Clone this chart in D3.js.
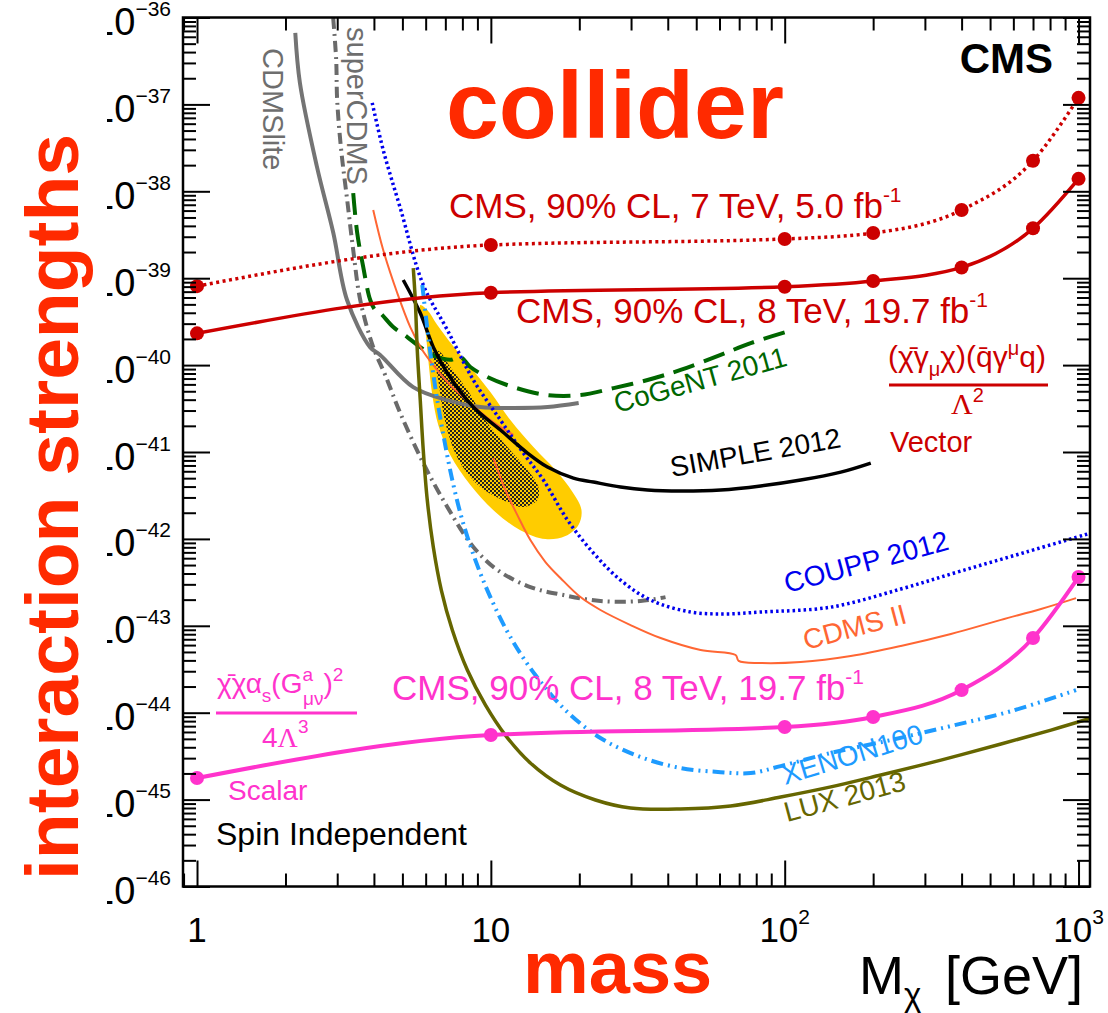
<!DOCTYPE html>
<html>
<head>
<meta charset="utf-8">
<script src="https://cdn.jsdelivr.net/npm/d3@7"></script>
<style>
  body { margin: 0; background: #fff; }
  svg { display: block; }
  text { font-family: "Liberation Sans", Arial, Helvetica, sans-serif; }
</style>
</head>
<body>
<svg id="chart"></svg>
<script>
// CMS mono-jet limits (points at fixed masses)
const massPoints = [1, 10, 100, 200, 400, 700, 1000];
const vector7TeV = [8.1e-40, 2.41e-39, 2.83e-39, 3.31e-39, 6.09e-39, 2.25e-38, 1.19e-37];
const vector8TeV = [2.32e-40, 6.81e-40, 7.98e-40, 9.29e-40, 1.33e-39, 3.75e-39, 1.39e-38];
const scalar8TeV = [1.77e-45, 5.54e-45, 6.84e-45, 8.93e-45, 1.82e-44, 7.24e-44, 3.64e-43];

// direct detection limits, [mass GeV, cross section cm^2]
const cdmsLite = [[2.16, 6.64e-37], [2.24, 1.76e-37], [2.56, 1.91e-38], [2.91, 3.31e-39], [3.24, 5.61e-40],
  [3.88, 1.61e-40], [4.2, 1.31e-40], [5.44, 5.58e-41], [7.11, 3.95e-41], [9.21, 3.29e-41], [11.9, 3.21e-41],
  [15.6, 3.29e-41], [19.9, 3.66e-41]];
const superCdms = [[2.907, 9.86e-37], [2.976, 3.24e-37], [2.999, 1.12e-37], [3.095, 2.99e-38], [3.244, 7.94e-39],
  [3.401, 2.11e-39], [3.593, 5.61e-40], [3.978, 1.61e-40], [4.37, 7.69e-41], [4.916, 2.81e-41], [5.888, 7.46e-42],
  [7.109, 2.33e-42], [8.717, 8.07e-43], [10.53, 4.39e-43], [13.63, 2.79e-43], [17.66, 2.26e-43], [23.6, 1.93e-43],
  [32.3, 1.93e-43], [39.3, 2.14e-43]];
const coupp = [[3.947, 1.04e-37], [4.302, 2.99e-38], [4.916, 6.43e-39], [5.888, 8.36e-40], [7.109, 2.54e-40],
  [8.717, 6.74e-41], [10.78, 2.33e-41], [12.9, 9.73e-42], [15.1, 4.75e-42], [18.23, 1.65e-42], [22.35, 6.87e-43],
  [27.62, 3.36e-43], [34.95, 1.98e-43], [47.83, 1.44e-43], [62.95, 1.37e-43], [82.83, 1.44e-43], [143.5, 1.64e-43],
  [248.5, 2.65e-43], [397.9, 4.27e-43], [662.2, 7.05e-43], [1103, 1.17e-42]];
const cogent = [[3.401, 9.55e-39], [3.509, 3.31e-39], [3.678, 1.35e-39], [3.886, 5.61e-40], [4.042, 4.3e-40],
  [4.202, 3.97e-40], [4.653, 2.74e-40], [5.194, 2.1e-40], [5.751, 1.61e-40], [6.573, 1.24e-40], [7.278, 1.15e-40],
  [7.872, 1.24e-40], [8.516, 9.5e-41], [9.73, 7.29e-41], [11.93, 5.58e-41], [15.58, 4.52e-41], [20.18, 4.52e-41],
  [26.15, 5.44e-41], [34.14, 6.74e-41], [44.23, 8.79e-41], [60.53, 1.31e-40], [76.61, 1.79e-40], [100.8, 2.4e-40]];
const cdms2Upper = [[3.978, 6.1e-39], [4.302, 2.11e-39], [4.802, 6.76e-40], [5.318, 2.74e-40], [5.844, 1.49e-40],
  [6.37, 1.0e-40], [7.278, 5.89e-41], [8.058, 4.29e-41], [9.961, 2.33e-41], [11.93, 1.57e-41]];
const cdms2 = [[10.2, 8.53e-42], [11.2, 3.66e-42], [12.31, 1.88e-42], [13.63, 9.7e-43], [15.34, 5.42e-43],
  [17.25, 3.55e-43], [20.18, 2.14e-43], [23.6, 1.52e-43], [29.88, 1.02e-43], [37.81, 7.23e-44], [51.74, 5.26e-44],
  [68.08, 4.61e-44], [69.71, 3.94e-44], [82.83, 3.73e-44], [113.4, 3.83e-44], [167.8, 4.49e-44], [248.5, 5.86e-44],
  [367.8, 8.05e-44], [544.5, 1.17e-43], [745.1, 1.56e-43], [980.6, 2.08e-43]];
const simple = [[5.033, 9.53e-40], [5.751, 3.97e-40], [6.37, 1.61e-40], [7.109, 8.11e-41], [8.717, 3.29e-41],
  [10.78, 1.79e-41], [13.32, 9.73e-42], [15.58, 6.71e-42], [19.1, 5.01e-42], [22.35, 4.51e-42], [27.62, 3.95e-42],
  [34.14, 3.65e-42], [44.23, 3.55e-42], [60.53, 3.65e-42], [82.83, 4.06e-42], [113.4, 4.75e-42], [155.2, 5.87e-42],
  [196.3, 7.46e-42]];
const lux = [[5.445, 1.31e-39], [5.531, 5.61e-40], [5.618, 1.49e-40], [5.751, 3.95e-41], [5.888, 1.05e-41],
  [6.076, 2.8e-42], [6.37, 8.07e-43], [6.782, 2.58e-43], [7.393, 8.95e-44], [8.317, 3.1e-44], [9.578, 1.23e-44],
  [11.2, 5.53e-45], [13.63, 2.64e-45], [17.25, 1.47e-45], [22.7, 9.89e-46], [29.88, 8.0e-46], [44.23, 7.8e-46],
  [65.46, 8.43e-46], [96.9, 1.07e-45], [143.5, 1.4e-45], [212.4, 1.92e-45], [340.1, 2.85e-45], [544.5, 4.36e-45],
  [806, 6.31e-45], [1103, 8.67e-45]];
const xenon100 = [[5.844, 8.36e-40], [6.029, 3.3e-40], [6.27, 1.15e-40], [6.573, 3.95e-41], [6.944, 1.37e-41],
  [7.393, 4.75e-42], [7.993, 1.65e-42], [8.857, 5.7e-43], [9.961, 2.14e-43], [11.65, 7.43e-44], [14.18, 2.71e-44],
  [17.94, 1.07e-44], [23.6, 5.12e-45], [32.31, 3.09e-45], [44.23, 2.31e-45], [60.53, 2.07e-45], [76.61, 2.02e-45],
  [96.9, 2.43e-45], [143.5, 3.44e-45], [229.7, 4.84e-45], [367.8, 7.03e-45], [588.8, 1.04e-44], [980.6, 1.82e-44]];

// signal regions (closed contours)
const cdmsSiOuter = [[5.751, 4.91e-40], [5.981, 2.54e-40], [6.124, 1.15e-40], [6.32, 4.53e-41], [6.623, 2.04e-41],
  [7.278, 9.23e-42], [8.516, 4.16e-42], [10.36, 2.04e-42], [12.6, 1.26e-42], [15.34, 9.95e-43], [17.94, 1.08e-42],
  [19.87, 1.45e-42], [20.34, 2.15e-42], [18.96, 3.46e-42], [16.59, 6.19e-42], [13.96, 1.14e-41], [11.65, 2.33e-41],
  [9.961, 4.9e-41], [8.516, 9.5e-41], [7.393, 1.7e-40], [6.573, 2.89e-40], [6.076, 4.3e-40]];
const cdmsSiInner = [[6.37, 1.49e-40], [6.623, 6.74e-41], [6.891, 2.81e-41], [7.278, 1.37e-41], [7.872, 7.46e-42],
  [9.209, 3.95e-42], [11.38, 2.65e-42], [12.9, 2.33e-42], [14.4, 2.8e-42], [14.51, 3.95e-42], [13.32, 6.19e-42],
  [11.38, 1.14e-41], [9.73, 2.15e-41], [8.317, 5.16e-41], [7.278, 9.5e-41], [6.73, 1.41e-40]];

const xLabelValues = [1, 10, 100, 1000];

const W = 1108, H = 1013;
const pLeft = 183, pRight = 1090, pTop = 17.5, pBottom = 886.5;
const red = '#cc0000', magenta = '#ff33cc', big = '#ff2a00';

const x = d3.scaleLog().domain([0.896, 1094]).range([pLeft, pRight]);
const y = d3.scaleLog().domain([1e-46, 1e-36]).range([pBottom, pTop]);

const svg = d3.select('#chart').attr('width', W).attr('height', H);
const defs = svg.append('defs');
defs.append('clipPath').attr('id', 'plotClip')
  .append('rect').attr('x', pLeft).attr('y', pTop).attr('width', pRight - pLeft).attr('height', pBottom - pTop);
defs.append('clipPath').attr('id', 'labClip')
  .append('rect').attr('x', 107).attr('y', 0).attr('width', 100).attr('height', H);
const pat = defs.append('pattern').attr('id', 'checker').attr('patternUnits', 'userSpaceOnUse')
  .attr('width', 4).attr('height', 4);
pat.append('rect').attr('width', 4).attr('height', 4).attr('fill', '#ffcc00');
pat.append('rect').attr('width', 2).attr('height', 2).attr('fill', '#222');
pat.append('rect').attr('x', 2).attr('y', 2).attr('width', 2).attr('height', 2).attr('fill', '#222');

const plot = svg.append('g').attr('clip-path', 'url(#plotClip)');

const smooth = d3.line().x(d => x(d[0])).y(d => y(d[1])).curve(d3.curveCatmullRom.alpha(0.5));
const closed = d3.line().x(d => x(d[0])).y(d => y(d[1])).curve(d3.curveCatmullRomClosed.alpha(0.5));

plot.append('path').attr('d', closed(cdmsSiOuter)).attr('fill', '#ffcc00');
plot.append('path').attr('d', closed(cdmsSiInner)).attr('fill', 'url(#checker)');

function curve(data, color, width, dash) {
  plot.append('path').attr('d', smooth(data)).attr('fill', 'none')
    .attr('stroke', color).attr('stroke-width', width)
    .attr('stroke-dasharray', dash || null);
}

curve(cdmsLite, '#747474', 4);
curve(superCdms, '#6a6a6a', 4, '11,5,2,5');
curve(cogent, '#006600', 4, '22,10');
curve(cdms2Upper, '#ff6633', 2);
curve(cdms2, '#ff6633', 2);
curve(coupp, '#0000ee', 3.5, '2.5,3');
curve(simple, '#000', 3.5);
curve(xenon100, '#1e9bff', 4, '12,5,2,5,2,5');
curve(lux, '#666600', 3.5);

// CMS lines
const cmsLine = d3.line().x((d, i) => x(massPoints[i])).y(d => y(d)).curve(d3.curveMonotoneX);
function cms(values, color, width, dash) {
  plot.append('path').attr('d', cmsLine(values)).attr('fill', 'none')
    .attr('stroke', color).attr('stroke-width', width).attr('stroke-dasharray', dash || null);
  svg.append('g').selectAll('circle').data(values).join('circle')
    .attr('cx', (d, i) => x(massPoints[i])).attr('cy', d => y(d)).attr('r', 7).attr('fill', color);
}
cms(vector7TeV, red, 3.5, '3,3.5');
cms(vector8TeV, red, 3.5);
cms(scalar8TeV, magenta, 4);

// frame and ticks
const isMajor = v => Math.abs(Math.log10(v) - Math.round(Math.log10(v))) < 1e-6;
const yTicks = y.ticks(20), xTicks = x.ticks(20);
const yMajor = yTicks.filter(isMajor), yMinor = yTicks.filter(v => !isMajor(v));
const xMajor = xTicks.filter(isMajor), xMinor = xTicks.filter(v => !isMajor(v));

function ticks(axis, tx, ty) {
  svg.append('g').attr('transform', `translate(${tx},${ty})`)
    .call(axis.tickSizeOuter(0).tickFormat(''))
    .call(g => g.select('.domain').remove())
    .call(g => g.selectAll('line').attr('stroke-width', 2));
}
ticks(d3.axisRight(y).tickValues(yMajor).tickSize(27), pLeft, 0);
ticks(d3.axisRight(y).tickValues(yMinor).tickSize(13), pLeft, 0);
ticks(d3.axisLeft(y).tickValues(yMajor).tickSize(27), pRight, 0);
ticks(d3.axisLeft(y).tickValues(yMinor).tickSize(13), pRight, 0);
ticks(d3.axisTop(x).tickValues(xMajor).tickSize(26), 0, pBottom);
ticks(d3.axisTop(x).tickValues(xMinor).tickSize(13), 0, pBottom);
ticks(d3.axisBottom(x).tickValues(xMajor).tickSize(26), 0, pTop);
ticks(d3.axisBottom(x).tickValues(xMinor).tickSize(13), 0, pTop);

svg.append('rect').attr('x', pLeft).attr('y', pTop).attr('width', pRight - pLeft).attr('height', pBottom - pTop)
  .attr('fill', 'none').attr('stroke', '#000').attr('stroke-width', 2.5);

// tick labels
const yLab = svg.append('g').attr('clip-path', 'url(#labClip)')
  .selectAll('text').data(yMajor).join('text')
  .attr('x', 171).attr('y', d => y(d) + 17.5).attr('text-anchor', 'end').attr('font-size', 38);
yLab.append('tspan').text('10');
yLab.append('tspan').attr('font-size', 21).attr('dy', -19)
  .text(d => '\u2212' + Math.abs(Math.round(Math.log10(d))));

const xLab = svg.append('g').selectAll('text').data(xLabelValues).join('text')
  .attr('x', d => x(d)).attr('y', 942).attr('text-anchor', 'middle').attr('font-size', 35);
xLab.append('tspan').text(d => (d < 100 ? String(d) : '10'));
xLab.filter(d => d >= 100).append('tspan').attr('font-size', 21).attr('dy', -18)
  .text(d => Math.round(Math.log10(d)));

// text helpers
function label(txt, px, py, size, color, angle, opts = {}) {
  const t = svg.append('text')
    .attr('transform', `translate(${px},${py}) rotate(${angle || 0})`)
    .attr('font-size', size).attr('fill', color)
    .attr('font-weight', opts.bold ? 'bold' : null)
    .attr('text-anchor', opts.anchor || 'start');
  t.text(txt);
  return t;
}
function supLabel(base, sup, px, py, size, color) {
  const t = svg.append('text').attr('x', px).attr('y', py).attr('font-size', size).attr('fill', color);
  t.append('tspan').text(base);
  t.append('tspan').attr('font-size', size * 0.6).attr('dy', -size * 0.45).text(sup);
}

// big annotation words
label('collider', 446, 138, 95, big, 0, { bold: true });
label('interaction strengths', 78, 507, 75, big, -90, { bold: true, anchor: 'middle' });
label('mass', 523, 993, 74, big, 0, { bold: true });
label('CMS', 1053, 73, 42, '#000', 0, { bold: true, anchor: 'end' });

// x title
const xt = svg.append('text').attr('y', 994).attr('font-size', 54);
xt.append('tspan').attr('x', 859).text('M');
xt.append('tspan').attr('font-size', 33).attr('dy', 12).text('\u03c7');
xt.append('tspan').attr('x', 945).attr('dy', -12).text('[GeV]');

// CMS result labels
supLabel('CMS, 90% CL, 7 TeV, 5.0 fb', '-1', 449, 218, 35, red);
supLabel('CMS, 90% CL, 8 TeV, 19.7 fb', '-1', 516, 323, 35, red);
supLabel('CMS, 90% CL, 8 TeV, 19.7 fb', '-1', 392, 700, 35, magenta);

// vector operator
const vn = svg.append('text').attr('x', 888).attr('y', 367).attr('font-size', 30).attr('fill', red);
vn.append('tspan').text('(\u03c7\u0304\u03b3');
vn.append('tspan').attr('font-size', 20).attr('dy', 9).text('\u03bc');
vn.append('tspan').attr('dy', -9).text('\u03c7)(q\u0304\u03b3');
vn.append('tspan').attr('font-size', 20).attr('dy', -12).text('\u03bc');
vn.append('tspan').attr('dy', 12).text('q)');
svg.append('line').attr('x1', 889).attr('x2', 1048).attr('y1', 385).attr('y2', 385)
  .attr('stroke', red).attr('stroke-width', 3);
const vd = svg.append('text').attr('x', 951).attr('y', 414).attr('font-size', 30).attr('fill', red);
vd.append('tspan').attr('font-family', '"Liberation Serif", serif').text('\u039b');
vd.append('tspan').attr('font-size', 20).attr('dy', -12).text('2');
label('Vector', 890, 452, 29, red);

// scalar operator
const sn = svg.append('text').attr('x', 217).attr('y', 693).attr('font-size', 28).attr('fill', magenta);
sn.append('tspan').text('\u03c7\u0304\u03c7\u03b1');
sn.append('tspan').attr('font-size', 19).attr('dy', 9).text('s');
sn.append('tspan').attr('dy', -9).text('(G');
sn.append('tspan').attr('font-size', 19).attr('dy', -12).text('a');
sn.append('tspan').attr('font-size', 19).attr('dx', -10).attr('dy', 24).text('\u03bc\u03bd');
sn.append('tspan').attr('dy', -12).text(')');
sn.append('tspan').attr('font-size', 19).attr('dy', -12).text('2');
svg.append('line').attr('x1', 216).attr('x2', 357).attr('y1', 713).attr('y2', 713)
  .attr('stroke', magenta).attr('stroke-width', 3);
const sd = svg.append('text').attr('x', 262).attr('y', 747).attr('font-size', 28).attr('fill', magenta);
sd.append('tspan').text('4');
sd.append('tspan').attr('font-family', '"Liberation Serif", serif').text('\u039b');
sd.append('tspan').attr('font-size', 19).attr('dy', -14).text('3');
label('Scalar', 228, 800, 28, magenta);
label('Spin Independent', 216, 845, 32, '#000');

// experiment labels
label('CDMSlite', 263, 48, 29, '#6e6e6e', 90);
label('superCDMS', 347, 27, 29, '#6e6e6e', 90);
label('CoGeNT 2011', 617, 413, 28, '#006600', -15.5);
label('SIMPLE 2012', 672, 477, 28, '#000', -10);
label('COUPP 2012', 787, 593, 28, '#0000ee', -15);
label('CDMS II', 806, 650, 28, '#ff6633', -15);
label('XENON100', 785, 785, 28, '#1e9bff', -17);
label('LUX 2013', 787, 822, 28, '#666600', -15);
</script>
</body>
</html>
